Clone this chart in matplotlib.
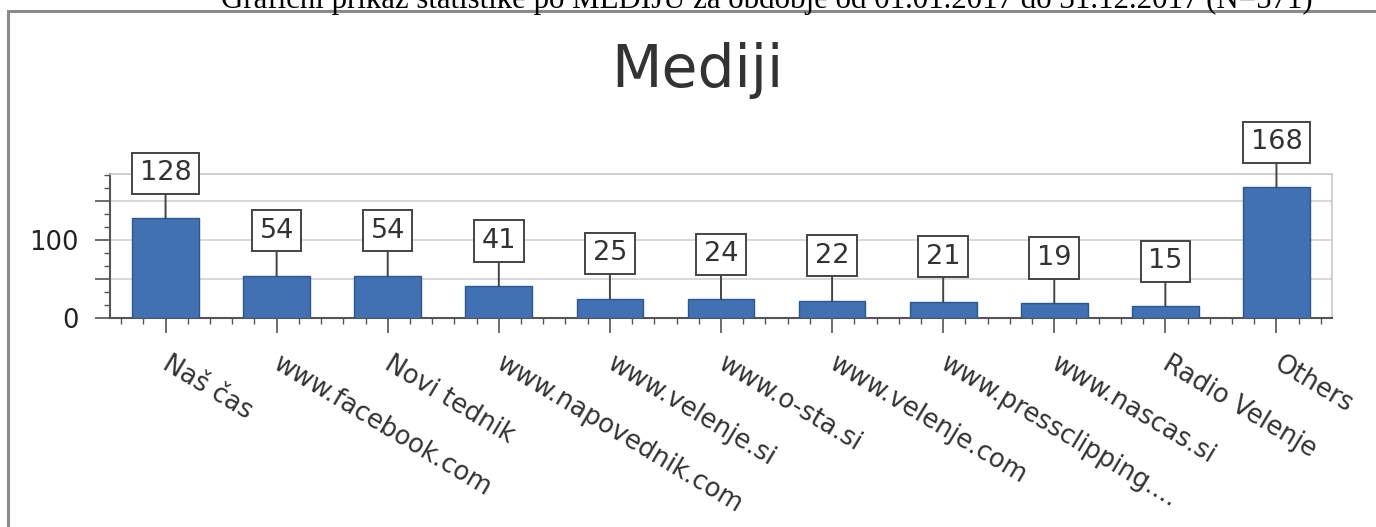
import matplotlib
matplotlib.use("Agg")
import matplotlib.pyplot as plt
from matplotlib.ticker import MultipleLocator
from matplotlib.patches import Rectangle
from matplotlib.transforms import ScaledTranslation

# data
mediji = ["Naš čas", "www.facebook.com", "Novi tednik", "www.napovednik.com",
          "www.velenje.si", "www.o-sta.si", "www.velenje.com", "www.pressclipping....",
          "www.nascas.si", "Radio Velenje", "Others"]
stevilo = [128, 54, 54, 41, 25, 24, 22, 21, 19, 15, 168]
y_ticks = [0, 50, 100, 150]
y_labels = ["0", "", "100", ""]

zgoraj = "Grafični prikaz statistike po MEDIJU za obdobje od 01.01.2017 do 31.12.2017 (N=571)"
naslov = "Mediji"

plt.rcParams["font.family"] = ["DejaVu Sans"]

W, H = 1376, 527
fig = plt.figure(figsize=(W / 100, H / 100), dpi=100)
fig.patch.set_facecolor("white")

# outer chart frame (cut off at right and bottom)
frame = Rectangle((8 / W, -0.05), 1.2, 1 - 11 / H + 0.05, transform=fig.transFigure,
                  facecolor="white", edgecolor="#8a8a8a", lw=2.2, zorder=-5)
fig.patches.append(frame)

# page title, mostly cut off at the top
fig.text(767 / W, 1 - 8 / H, zgoraj, ha="center", va="baseline",
         fontsize=22.2, family="Liberation Serif", color="black")

fig.text(697 / W, 1 - 87 / H, naslov, ha="center", va="baseline",
         fontsize=42, color="#333333")

ax = fig.add_axes([110 / W, 1 - 318 / H, (1332 - 110) / W, (318 - 174) / H], zorder=2)
ax.set_facecolor("none")

x = list(range(len(mediji)))
ax.bar(x, stevilo, width=0.6, color="#4170b3", edgecolor="#2c5791", lw=1, zorder=3)

for i, v in zip(x, stevilo):
    ax.annotate(str(v), xy=(i, v), xytext=(0, 32.5), textcoords="offset points",
                ha="center", va="center", fontsize=19.5, color="#333333", zorder=5,
                bbox=dict(boxstyle="square,pad=0.28", fc="white", ec="#444444", lw=1.4),
                arrowprops=dict(arrowstyle="-", color="#444444", lw=1.4,
                                shrinkA=0, shrinkB=0))

ax.set_xlim(-0.5, 10.5)
ax.set_ylim(0, 185)

ax.set_yticks(y_ticks)
ax.set_yticklabels(y_labels)
ax.yaxis.set_minor_locator(MultipleLocator(50 / 3))
ax.yaxis.grid(True, which="major", color="#d2d2d2", lw=1.2, zorder=0)

ax.set_xticks(x)
ax.set_xticklabels(mediji, rotation=-31, ha="left", va="top",
                   rotation_mode="anchor", fontsize=18.5, color="#333333")
ax.xaxis.set_minor_locator(MultipleLocator(0.2))

ax.tick_params(axis="y", which="major", length=10.8, width=1.2, color="#555555",
               pad=12, labelsize=18.5, labelcolor="#222222")
ax.tick_params(axis="y", which="minor", length=4.5, width=1, color="#555555")
ax.tick_params(axis="x", which="major", length=10.8, width=1.2, color="#555555", pad=13)
ax.tick_params(axis="x", which="minor", length=4, width=1, color="#555555")

shift = ScaledTranslation(6 / 100, 0, fig.dpi_scale_trans)
for lab in ax.get_xticklabels():
    lab.set_transform(lab.get_transform() + shift)

for s in ["left", "bottom"]:
    ax.spines[s].set_color("#555555")
    ax.spines[s].set_linewidth(1.5)
for s in ["top", "right"]:
    ax.spines[s].set_color("#c8c8c8")
    ax.spines[s].set_linewidth(1.2)

plt.savefig("out.png", dpi=100)
